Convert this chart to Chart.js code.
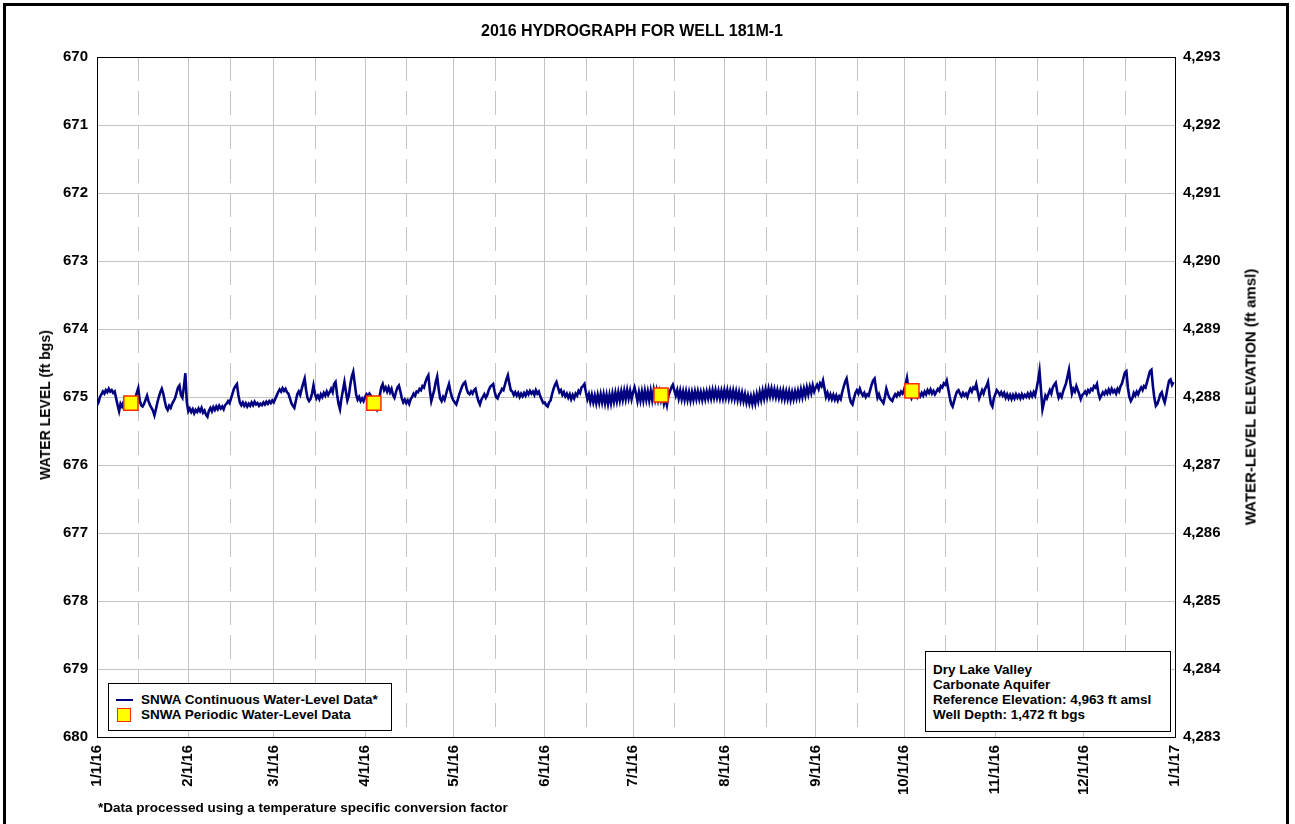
<!DOCTYPE html>
<html><head><meta charset="utf-8">
<script src="https://cdn.jsdelivr.net/npm/chart.js@4.4.1/dist/chart.umd.min.js"></script>
<style>
html,body{margin:0;padding:0;background:#fff;}
body{width:1295px;height:824px;position:relative;overflow:hidden;font-family:"Liberation Sans",Arial,sans-serif;font-weight:bold;color:#000;}
#frame{position:absolute;left:3px;top:3px;width:1280px;height:900px;border:3px solid #000;}
#c{position:absolute;left:0;top:0;}
.t{position:absolute;white-space:nowrap;}
#title{left:0;width:1264px;text-align:center;top:22px;font-size:16px;}
.vt{position:absolute;white-space:nowrap;font-size:14px;transform:translate(-50%,-50%) rotate(-90deg);}
#ylt{left:45px;top:405px;}
#yrt{left:1250px;top:397px;font-size:15px;}
#legend{position:absolute;left:108px;top:683px;width:282px;height:46px;border:1px solid #000;background:#fff;font-size:13.5px;}
#legend .ln{position:absolute;left:7px;top:15px;width:17px;height:2px;background:#000080;}
#legend .sq{position:absolute;left:8px;top:24px;width:12px;height:12px;background:#ffff00;border:1.5px solid #ff2a00;}
#legend .l1{position:absolute;left:32px;top:8px;line-height:16px;}
#legend .l2{position:absolute;left:32px;top:23px;line-height:16px;}
#info{position:absolute;left:925px;top:651px;width:244px;height:79px;border:1px solid #000;background:#fff;font-size:13.5px;}
#info div{position:absolute;left:7px;line-height:15px;white-space:nowrap;}
#foot{left:98px;top:800px;font-size:13.5px;}
</style>
</head><body>
<div id="frame"></div>
<canvas id="c" width="1295" height="824"></canvas>
<div class="t" id="title">2016 HYDROGRAPH FOR WELL 181M-1</div>
<div class="vt" id="ylt">WATER LEVEL (ft bgs)</div>
<div class="vt" id="yrt">WATER-LEVEL ELEVATION (ft amsl)</div>
<div id="legend">
  <div class="ln"></div><div class="l1">SNWA Continuous Water-Level Data*</div>
  <div class="sq"></div><div class="l2">SNWA Periodic Water-Level Data</div>
</div>
<div id="info">
  <div style="top:10px">Dry Lake Valley</div>
  <div style="top:25px">Carbonate Aquifer</div>
  <div style="top:40px">Reference Elevation: 4,963 ft amsl</div>
  <div style="top:55px">Well Depth: 1,472 ft bgs</div>
</div>
<div class="t" id="foot">*Data processed using a temperature specific conversion factor</div>
<script>
// ---- Data (water level, ft bgs), two readings per day, by month ----
const jan16 = [675.12,675.08,675.00,674.96,674.92,674.95,674.90,674.93,674.88,674.92,
674.90,674.94,674.92,675.02,675.12,675.21,675.10,675.14,675.08,675.12,
675.06,675.11,675.09,675.13,675.08,675.10,675.02,674.94,674.87,675.05,
675.12,675.14,675.10,675.04,674.98,675.06,675.12,675.16,675.20,675.27,
675.18,675.08,675.00,674.93,674.88,674.95,675.06,675.15,675.19,675.13,
675.16,675.10,675.06,675.02,674.94,674.86,674.83,674.97,675.01,674.85,
674.65,675.08];
const feb16 = [675.21,675.17,675.22,675.18,675.24,675.19,675.22,675.17,675.21,675.16,
675.23,675.20,675.26,675.29,675.20,675.16,675.21,675.15,675.19,675.14,
675.18,675.13,675.17,675.14,675.18,675.12,675.10,675.06,675.09,675.02,
674.95,674.88,674.84,674.81,674.97,675.08,675.12,675.08,675.13,675.09,
675.14,675.10,675.13,675.08,675.12,675.07,675.11,675.09,675.13,675.10,
675.12,675.08,675.11,675.07,675.10,675.06,675.09,675.05];
const mar16 = [675.08,675.03,674.98,674.93,674.89,674.92,674.87,674.91,674.88,674.93,
674.95,675.02,675.09,675.13,675.16,675.06,674.96,674.92,674.97,674.88,
674.80,674.73,674.90,675.02,675.06,675.03,674.95,674.83,674.95,675.02,
674.98,675.03,674.96,675.00,674.94,674.98,674.92,674.97,674.93,674.88,
674.93,674.81,674.78,674.96,675.10,675.18,675.02,674.90,674.78,674.92,
675.05,674.98,674.82,674.70,674.63,674.80,674.97,675.04,675.00,675.06,
675.02,675.06];
const apr16 = [675.00,674.96,674.99,674.95,674.98,675.03,675.10,675.16,675.19,675.12,
674.98,674.86,674.81,674.90,674.86,674.92,674.86,674.93,674.88,674.97,
675.01,674.93,674.86,674.83,674.92,675.02,675.08,675.04,675.09,675.05,
675.10,675.03,675.00,674.95,674.98,674.92,674.93,674.88,674.90,674.84,
674.86,674.78,674.72,674.68,674.90,675.06,674.98,674.90,674.78,674.70,
674.88,675.02,675.06,675.00,675.04,674.96,674.88,674.81,674.92,675.00];
const may16 = [675.05,675.08,675.11,675.04,674.96,674.90,674.84,674.80,674.78,674.88,
674.94,674.96,674.92,674.95,674.90,674.88,674.98,675.06,675.11,675.04,
675.00,674.96,675.01,674.97,674.90,674.85,674.83,674.81,674.92,675.00,
675.02,674.96,674.93,674.88,674.90,674.82,674.74,674.68,674.80,674.90,
674.92,674.97,674.93,674.98,674.94,675.00,674.95,674.99,674.94,674.98,
674.92,674.96,674.91,674.95,674.92,674.97,674.90,674.95,674.92,674.99,
675.04,675.09];
const jun16 = [675.08,675.12,675.14,675.08,675.05,674.96,674.88,674.82,674.78,674.86,
674.93,674.90,674.97,674.93,674.99,674.95,675.01,674.96,675.03,674.97,
675.02,674.95,674.98,674.91,674.94,674.86,674.84,674.81,674.93,675.03,
674.96,675.07,674.97,675.08,674.98,675.09,674.97,675.08,674.96,675.08,
674.96,675.09,674.97,675.10,674.97,675.09,674.95,675.07,674.94,675.06,
674.93,675.05,674.92,675.04,674.91,675.03,674.90,675.02,674.91,675.03];
const jul16 = [674.93,674.86,674.95,675.06,674.93,675.05,674.92,675.05,674.91,675.04,
674.92,675.05,674.91,675.04,674.90,675.03,674.91,675.04,674.93,675.05,
674.97,675.10,675.02,675.12,674.98,674.92,674.86,674.82,674.90,674.98,
674.90,675.02,674.91,675.03,674.92,675.04,674.92,675.04,674.93,675.05,
674.93,675.04,674.92,675.03,674.92,675.03,674.93,675.04,674.93,675.03,
674.92,675.02,674.91,675.02,674.90,675.01,674.90,675.01,674.91,675.02,
674.91,675.02];
const aug16 = [674.90,675.01,674.90,675.02,674.91,675.02,674.91,675.03,674.92,675.04,
674.93,675.05,674.94,675.06,674.96,675.08,674.98,675.09,674.99,675.10,
674.98,675.09,674.96,675.06,674.93,675.04,674.91,675.02,674.89,675.00,
674.88,674.99,674.88,674.99,674.89,675.00,674.90,675.01,674.91,675.02,
674.91,675.03,674.92,675.03,674.92,675.04,674.93,675.03,674.92,675.02,
674.91,675.01,674.89,675.00,674.88,674.98,674.86,674.96,674.85,674.94,
674.83,674.92];
const sep16 = [674.86,674.82,674.88,674.80,674.84,674.76,674.88,675.00,674.94,675.02,
674.96,675.03,674.97,675.04,674.98,675.05,674.99,675.03,674.93,674.85,
674.78,674.73,674.86,675.00,675.08,675.11,675.02,674.94,674.90,674.95,
674.88,674.94,674.98,674.94,675.00,674.96,674.98,674.90,674.82,674.76,
674.73,674.88,675.01,674.96,675.03,675.06,675.09,675.00,674.88,674.95,
675.01,675.04,675.06,675.00,674.96,674.99,674.94,674.97,674.92,674.95];
const oct16 = [674.90,674.82,674.72,674.88,674.98,675.02,674.95,674.99,674.94,675.00,
674.95,674.99,674.94,674.98,674.92,674.96,674.90,674.94,674.89,674.95,
674.91,674.96,674.92,674.88,674.91,674.84,674.86,674.80,674.82,674.76,
674.88,675.00,675.10,675.14,675.06,674.98,674.92,674.90,674.95,674.99,
674.94,674.98,674.95,675.00,674.93,674.88,674.92,674.86,674.88,674.81,
674.92,675.02,674.96,674.90,674.95,674.88,674.84,674.78,674.96,675.10,
675.14,675.02];
const nov16 = [674.96,674.90,674.93,674.97,674.93,674.98,674.94,675.01,674.96,675.02,
674.97,675.03,674.97,675.02,674.96,675.01,674.97,675.02,674.96,675.01,
674.97,675.00,674.95,675.00,674.94,674.99,674.93,674.98,674.88,674.76,
674.62,674.90,675.18,675.08,674.98,675.02,674.96,674.90,674.95,674.86,
674.82,674.79,674.92,675.01,674.96,675.00,674.92,674.86,674.80,674.70,
674.60,674.80,674.95,674.88,674.92,674.84,674.90,674.96,675.03,674.97];
const dec16 = [674.95,674.92,674.96,674.90,674.93,674.88,674.90,674.84,674.86,674.81,
674.94,675.02,674.98,674.93,674.96,674.91,674.95,674.89,674.94,674.88,
674.93,674.90,674.95,674.88,674.92,674.84,674.80,674.72,674.64,674.62,
674.86,675.00,675.06,675.02,674.94,674.98,674.92,674.96,674.90,674.86,
674.90,674.84,674.86,674.78,674.70,674.62,674.60,674.84,675.02,675.13,
675.10,675.04,674.96,674.93,675.02,675.08,674.98,674.86,674.76,674.74,
674.82,674.78];

// periodic (manual) measurements
const periodicTimes = ['2016-01-12T12:00:00Z','2016-04-04T00:00:00Z','2016-07-10T12:00:00Z','2016-10-03T16:00:00Z'];
const periodicLevels = [675.09, 675.09, 674.97, 674.91];

// axis ticks
const monthStarts = [0,31,60,91,121,152,182,213,244,274,305,335,366];
const tickLabels = ['1/1/16','2/1/16','3/1/16','4/1/16','5/1/16','6/1/16','7/1/16','8/1/16','9/1/16','10/1/16','11/1/16','12/1/16','1/1/17'];
const levelMin = 670, levelMax = 680;
const refElevation = 4963;

// ---- build ----
const months = [jan16,feb16,mar16,apr16,may16,jun16,jul16,aug16,sep16,oct16,nov16,dec16];
const contPoints = [];
months.forEach((arr,m)=>arr.forEach((v,i)=>contPoints.push({x:monthStarts[m]+i*0.5,y:v})));
const t0 = Date.parse('2016-01-01T00:00:00Z');
const periodicPoints = periodicTimes.map((s,i)=>({x:(Date.parse(s)-t0)/864e5,y:periodicLevels[i]}));
const midMonths = monthStarts.slice(0,12).map(d=>d+14);

const FONT = '"Liberation Sans", Arial, sans-serif';
const GRID = '#c4c4c4';

const framePlugin = {
  id:'frame',
  beforeDatasetsDraw(chart){
    const {ctx, chartArea:a, scales:{x}} = chart;
    ctx.save();
    ctx.strokeStyle = GRID; ctx.lineWidth = 1; ctx.setLineDash([24,10]);
    midMonths.forEach(d=>{
      const px = Math.round(x.getPixelForValue(d))+0.5;
      ctx.beginPath(); ctx.moveTo(px,a.top); ctx.lineTo(px,a.bottom); ctx.stroke();
    });
    ctx.restore();
  },
  afterDraw(chart){
    const {ctx, chartArea:a} = chart;
    ctx.save();
    ctx.strokeStyle = '#000'; ctx.lineWidth = 1;
    ctx.beginPath(); ctx.moveTo(a.left,Math.round(a.top)+0.5); ctx.lineTo(a.right,Math.round(a.top)+0.5); ctx.stroke();
    ctx.restore();
  }
};

new Chart(document.getElementById('c').getContext('2d'), {
  type:'line',
  data:{datasets:[
    {label:'SNWA Periodic Water-Level Data', data:periodicPoints, showLine:false,
     pointStyle:'rect', pointRadius:10, pointBackgroundColor:'#ffff00', pointBorderColor:'#ff2a00', pointBorderWidth:1.5,
     xAxisID:'x', yAxisID:'y'},
    {label:'SNWA Continuous Water-Level Data*', data:contPoints, borderColor:'#000080', borderWidth:2.6,
     pointRadius:0, tension:0, fill:false, xAxisID:'x', yAxisID:'y'}
  ]},
  options:{
    responsive:false, animation:false, events:[],
    layout:{padding:{top:57,left:0,right:0,bottom:0}},
    plugins:{legend:{display:false}, title:{display:false}, tooltip:{enabled:false}},
    scales:{
      x:{type:'linear', min:monthStarts[0], max:monthStarts[12],
         afterBuildTicks:s=>{s.ticks = monthStarts.map(v=>({value:v}));},
         ticks:{autoSkip:false, minRotation:90, maxRotation:90, padding:8, color:'#000',
                font:{family:FONT, size:15, weight:'bold'},
                callback:(v)=>{const i = monthStarts.indexOf(v); return i>=0 ? tickLabels[i] : '';}},
         grid:{color:GRID, lineWidth:1, drawTicks:false},
         border:{color:'#000', width:1},
         afterFit:s=>{s.height = 87;}},
      y:{type:'linear', position:'left', reverse:true, min:levelMin, max:levelMax,
         ticks:{stepSize:1, padding:9, color:'#000', font:{family:FONT, size:15, weight:'bold'}},
         grid:{color:GRID, lineWidth:1, drawTicks:false},
         border:{color:'#000', width:1},
         afterFit:s=>{s.width = 97;}},
      y2:{type:'linear', position:'right', min:refElevation-levelMax, max:refElevation-levelMin,
         ticks:{stepSize:1, padding:8, color:'#000', font:{family:FONT, size:15, weight:'bold'},
                callback:v=>v.toLocaleString('en-US')},
         grid:{display:false, drawTicks:false},
         border:{color:'#000', width:1},
         afterFit:s=>{s.width = 120;}}
    }
  },
  plugins:[framePlugin]
});
</script>
</body></html>
